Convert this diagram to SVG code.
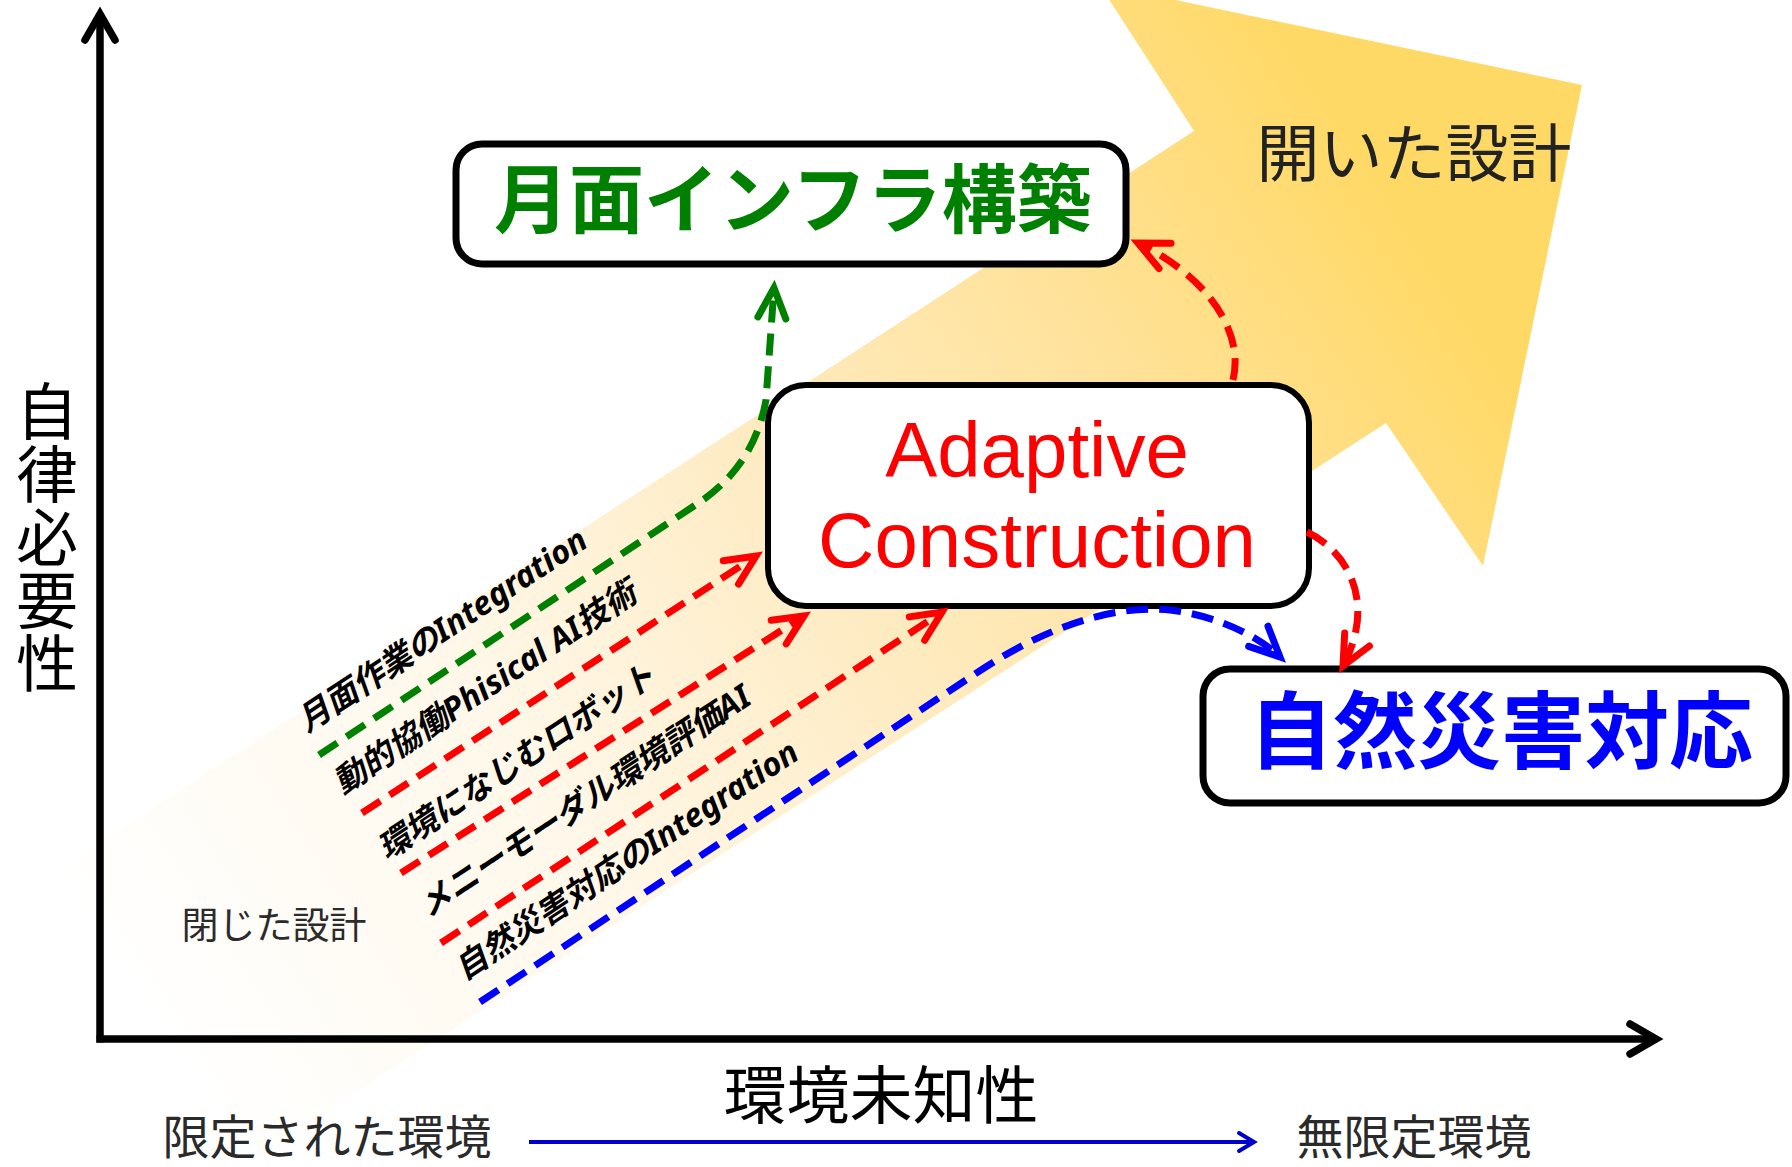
<svg xmlns="http://www.w3.org/2000/svg" width="1792" height="1167" viewBox="0 0 1792 1167">
<defs>
<linearGradient id="bandGrad" gradientUnits="userSpaceOnUse" x1="200" y1="1100" x2="1450" y2="290">
<stop offset="0" stop-color="#FFFFFF"/>
<stop offset="0.3" stop-color="#FFF8EA"/>
<stop offset="0.55" stop-color="#FEEBC2"/>
<stop offset="0.78" stop-color="#FFE29A"/>
<stop offset="1" stop-color="#FFD966"/>
</linearGradient>
<marker id="arrG" markerUnits="userSpaceOnUse" orient="auto" refX="0" refY="0" markerWidth="80" markerHeight="80" overflow="visible">
<path d="M -30 -14 L 0 0 L -30 14" fill="none" stroke="#008000" stroke-width="7" stroke-linecap="round" stroke-linejoin="miter"/>
</marker>
<marker id="arrR" markerUnits="userSpaceOnUse" orient="auto" refX="0" refY="0" markerWidth="80" markerHeight="80" overflow="visible">
<path d="M -30 -14 L 0 0 L -30 14" fill="none" stroke="#FF0000" stroke-width="7" stroke-linecap="round" stroke-linejoin="miter"/>
</marker>
<marker id="arrB" markerUnits="userSpaceOnUse" orient="auto" refX="0" refY="0" markerWidth="80" markerHeight="80" overflow="visible">
<path d="M -30 -14 L 0 0 L -30 14" fill="none" stroke="#0000FF" stroke-width="7" stroke-linecap="round" stroke-linejoin="miter"/>
</marker>
<style>
.dash{fill:none;stroke-width:7;stroke-dasharray:22 11;stroke-linecap:butt}
.box{fill:#FFFFFF;stroke:#000000}
.jp{font-family:'Noto Sans CJK JP','Noto Sans',sans-serif}
.lbl{font-family:'Noto Sans','Noto Sans CJK JP',sans-serif;font-size:32.5px;font-weight:bold;font-style:italic;fill:#000}
.axis{fill:none;stroke:#000;stroke-width:7.5}
</style>
</defs>

<g id="band">
<polygon points="-150,1005 1194,131 1099,-16 1582,85 1483,566 1386,423 40,1297" fill="url(#bandGrad)"/>
</g>

<g id="axes">
<line class="axis" x1="100" y1="16" x2="100" y2="1042.5" stroke-linecap="butt"/>
<line class="axis" x1="96.5" y1="1039" x2="1654" y2="1039" stroke-linecap="butt"/>
<path class="axis" d="M 85 40 L 100 14 L 115 40" stroke-linecap="round" stroke-linejoin="miter"/>
<path class="axis" d="M 1630 1024 L 1656 1039 L 1630 1054" stroke-linecap="round" stroke-linejoin="miter"/>
</g>

<g id="axis-labels" class="jp">
<text x="47" y="380" font-size="62" writing-mode="vertical-rl" letter-spacing="1" fill="#000">自律必要性</text>
<text x="881" y="1118" font-size="63" text-anchor="middle" fill="#000">環境未知性</text>
<text x="327" y="1154" font-size="47" text-anchor="middle" fill="#2a2a2a">限定された環境</text>
<text x="1414" y="1154" font-size="47" text-anchor="middle" fill="#2a2a2a">無限定環境</text>
<line x1="529" y1="1142" x2="1253" y2="1142" stroke="#0000CC" stroke-width="4"/>
<path d="M 1239 1133 L 1254 1142 L 1239 1151" fill="none" stroke="#0000CC" stroke-width="4" stroke-linecap="round" stroke-linejoin="miter"/>
<text x="1414" y="176" font-size="63" text-anchor="middle" fill="#222">開いた設計</text>
<text x="274" y="939" font-size="37" text-anchor="middle" fill="#2b2b2b">閉じた設計</text>
</g>

<g id="nodes">
<g id="node-moon">
<rect class="box" x="456" y="144" width="670" height="120" rx="26" stroke-width="7"/>
<text class="jp" x="793" y="227" font-size="75" font-weight="bold" text-anchor="middle" fill="#008000">月面インフラ構築</text>
</g>
<g id="node-adaptive">
<rect class="box" x="768" y="385" width="541" height="221" rx="38" stroke-width="6"/>
<text x="1037" y="477" font-family="'Liberation Sans',Arial,sans-serif" font-size="78" text-anchor="middle" fill="#FF0000">Adaptive</text>
<text x="1037" y="567" font-family="'Liberation Sans',Arial,sans-serif" font-size="78" text-anchor="middle" fill="#FF0000">Construction</text>
</g>
<g id="node-disaster">
<rect class="box" x="1203" y="669" width="583" height="134" rx="27" stroke-width="7"/>
<text class="jp" x="1501" y="762" font-size="84" font-weight="bold" text-anchor="middle" fill="#0000FF">自然災害対応</text>
</g>
</g>

<g id="connectors">
<path class="dash" stroke="#008000" d="M 319 755 L 700 502 C 735 478 758 445 766 400 L 774 288" marker-end="url(#arrG)"/>
<path class="dash" stroke="#FF0000" d="M 362 813 L 756 556" marker-end="url(#arrR)"/>
<path class="dash" stroke="#FF0000" d="M 401 873 L 804 616" marker-end="url(#arrR)"/>
<path class="dash" stroke="#FF0000" d="M 441 943 L 942 612" marker-end="url(#arrR)"/>
<path class="dash" stroke="#0000FF" d="M 480 1002 L 975 674 C 1040 630 1110 604 1170 610 C 1218 616 1258 636 1280 657" marker-end="url(#arrB)"/>
<path class="dash" stroke="#FF0000" d="M 1233 380 C 1245 330 1205 275 1138 243" marker-end="url(#arrR)"/>
<path class="dash" stroke="#FF0000" d="M 1307 532 C 1345 550 1378 600 1343 666" marker-end="url(#arrR)"/>
</g>

<g id="connector-labels">
<text class="lbl" transform="translate(307,733) rotate(-33.5)">月面作業のIntegration</text>
<text class="lbl" transform="translate(343,795) rotate(-33.5)">動的協働Phisical AI技術</text>
<text class="lbl" transform="translate(387,861) rotate(-33.5)">環境になじむロボット</text>
<text class="lbl" transform="translate(428,918) rotate(-33.5)">メニーモーダル環境評価AI</text>
<text class="lbl" transform="translate(464,981) rotate(-33.5)">自然災害対応のIntegration</text>
</g>
</svg>
